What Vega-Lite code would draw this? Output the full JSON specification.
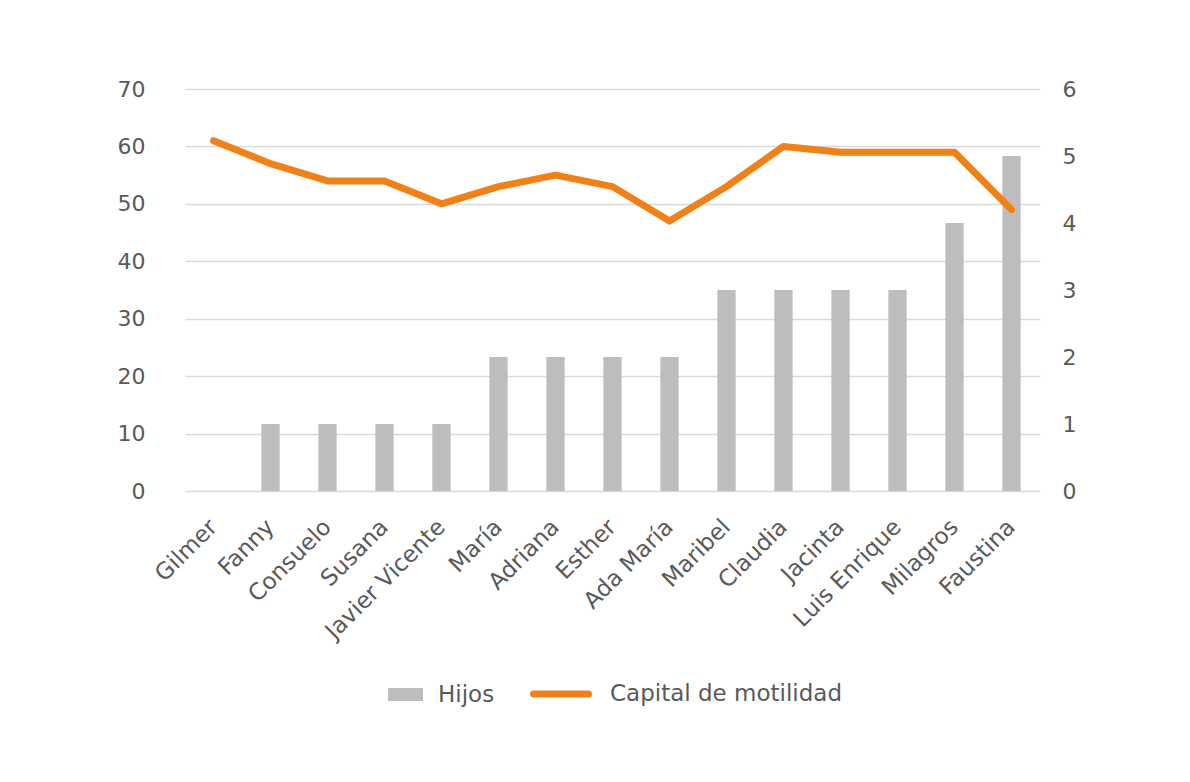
{
  "$schema": "https://vega.github.io/schema/vega-lite/v6.json",
  "width": 855,
  "height": 402,
  "autosize": {"type": "none"},
  "padding": {"left": 185, "top": 89, "right": 150, "bottom": 291},
  "background": "white",
  "config": {
    "view": {"stroke": null},
    "font": "DejaVu Sans",
    "axis": {
      "labelFont": "DejaVu Sans",
      "labelFontSize": 22,
      "labelColor": "#595959",
      "domain": false,
      "ticks": false,
      "title": null,
      "gridColor": "#d9d9d9",
      "gridWidth": 1.5
    },
    "legend": {
      "labelFont": "DejaVu Sans",
      "labelFontSize": 23,
      "labelColor": "#595959",
      "labelLimit": 400,
      "padding": 0,
      "title": null,
      "orient": "none"
    }
  },
  "data": {
    "values": [
      {"name": "Gilmer", "hijos": 0, "capital": 61},
      {"name": "Fanny", "hijos": 1, "capital": 57},
      {"name": "Consuelo", "hijos": 1, "capital": 54},
      {"name": "Susana", "hijos": 1, "capital": 54},
      {"name": "Javier Vicente", "hijos": 1, "capital": 50},
      {"name": "María", "hijos": 2, "capital": 53},
      {"name": "Adriana", "hijos": 2, "capital": 55},
      {"name": "Esther", "hijos": 2, "capital": 53},
      {"name": "Ada María", "hijos": 2, "capital": 47},
      {"name": "Maribel", "hijos": 3, "capital": 53},
      {"name": "Claudia", "hijos": 3, "capital": 60},
      {"name": "Jacinta", "hijos": 3, "capital": 59},
      {"name": "Luis Enrique", "hijos": 3, "capital": 59},
      {"name": "Milagros", "hijos": 4, "capital": 59},
      {"name": "Faustina", "hijos": 5, "capital": 49}
    ]
  },
  "encoding": {
    "x": {
      "field": "name",
      "type": "nominal",
      "sort": null,
      "scale": {"paddingInner": 0.68, "paddingOuter": 0.34},
      "axis": {
        "labelAngle": -45,
        "labelAlign": "right",
        "labelBaseline": "middle",
        "labelPadding": 32,
        "labelFontSize": 23,
        "grid": false,
        "labelLimit": 300
      }
    }
  },
  "layer": [
    {
      "mark": {"type": "bar", "color": "#bdbdbc"},
      "encoding": {
        "y": {
          "field": "hijos",
          "type": "quantitative",
          "scale": {"domain": [0, 6]},
          "axis": {"orient": "right", "values": [0, 1, 2, 3, 4, 5, 6], "grid": false, "labelPadding": 22}
        },
        "fill": {
          "datum": "Hijos",
          "scale": {"range": ["#bdbdbc"]},
          "legend": {
            "legendX": 203,
            "legendY": 588,
            "symbolType": "M-1,-0.37L1,-0.37L1,0.37L-1,0.37Z",
            "symbolSize": 1225,
            "symbolStrokeWidth": 0,
            "labelOffset": 15
          }
        }
      }
    },
    {
      "mark": {"type": "line", "color": "#f08119", "strokeWidth": 7, "strokeCap": "round", "strokeJoin": "round"},
      "encoding": {
        "y": {
          "field": "capital",
          "type": "quantitative",
          "scale": {"domain": [0, 70]},
          "axis": {"orient": "left", "values": [0, 10, 20, 30, 40, 50, 60, 70], "grid": true, "labelPadding": 40}
        },
        "stroke": {
          "datum": "Capital de motilidad",
          "scale": {"range": ["#f08119"]},
          "legend": {
            "legendX": 345,
            "legendY": 574,
            "symbolType": "stroke",
            "symbolSize": 3025,
            "symbolStrokeWidth": 7,
            "labelOffset": 18,
            "encode": {"symbols": {"update": {"strokeCap": {"value": "round"}}}}
          }
        }
      }
    }
  ],
  "resolve": {"scale": {"y": "independent"}}
}
